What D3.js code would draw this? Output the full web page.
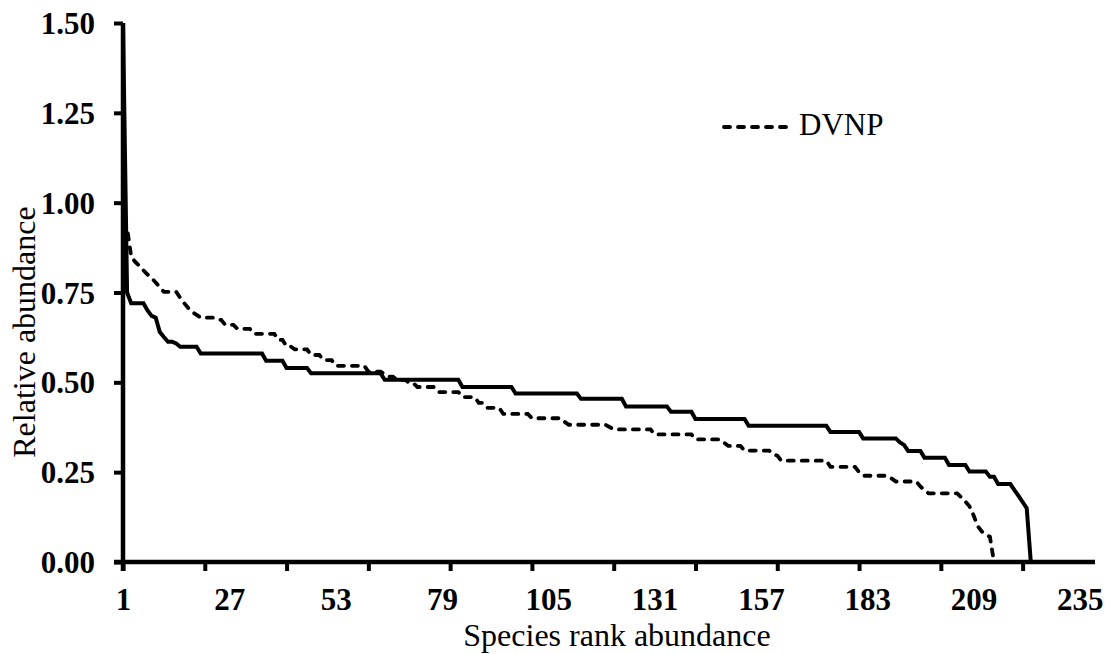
<!DOCTYPE html>
<html>
<head>
<meta charset="utf-8">
<script src="https://cdn.jsdelivr.net/npm/d3@7"></script>
<style>
  body { margin: 0; background: #fff; }
  text { font-family: "Liberation Serif", "Times New Roman", serif; fill: #000; }
</style>
</head>
<body>
<svg id="chart" width="1111" height="654"></svg>
<script>
// rank / relative abundance (corner points of each step)
const solidRank = [1, 2, 3, 6, 7, 8, 9, 10, 11, 12, 13, 14, 15, 19, 20, 35, 36, 40, 41, 46,
  47, 64, 65, 83, 84, 96, 97, 112, 113, 123, 124, 134, 135, 140, 141, 153, 154, 173,
  174, 181, 182, 190, 191, 192, 193, 196, 197, 202, 203, 207, 208, 212, 213, 214,
  215, 218, 219, 220, 221, 222, 223];
const solidValue = [1.50, 0.75, 0.72, 0.72, 0.70, 0.685, 0.68, 0.64, 0.626, 0.613, 0.613, 0.608, 0.599, 0.599, 0.58, 0.58, 0.56, 0.56, 0.54, 0.54,
  0.525, 0.525, 0.507, 0.507, 0.487, 0.487, 0.469, 0.469, 0.454, 0.454, 0.433, 0.433, 0.418, 0.418, 0.398, 0.398, 0.379, 0.379,
  0.362, 0.362, 0.344, 0.344, 0.333, 0.326, 0.309, 0.309, 0.29, 0.29, 0.27, 0.27, 0.252, 0.252, 0.237, 0.237,
  0.217, 0.217, 0.20, 0.184, 0.167, 0.15, 0];

const dvnpRank = [1, 2, 3, 4, 5, 6, 7, 8, 9, 10, 11, 14, 15, 16, 17, 18, 19, 20, 23, 24, 25, 26, 28, 29, 32,
  33, 38, 39, 40, 41, 42, 43, 46, 47, 49, 50, 52, 53, 60, 61, 64, 66, 67, 68, 70, 71, 72, 73, 77,
  78, 83, 84, 87, 88, 89, 90, 93, 94, 100, 101, 108, 109, 110, 119, 121, 130, 131, 140, 141, 147,
  148, 149, 152, 153, 159, 160, 161, 162, 173, 174, 180, 181, 182, 188, 189, 190, 195, 196, 197,
  198, 205, 206, 207, 208, 209, 210, 211, 212, 213, 214];
const dvnpValue = [0.95, 0.93, 0.85, 0.835, 0.824, 0.812, 0.80, 0.79, 0.778, 0.765, 0.752, 0.752, 0.735, 0.72, 0.706, 0.695, 0.688, 0.68, 0.68, 0.674, 0.674, 0.66, 0.66, 0.649, 0.649,
  0.635, 0.635, 0.618, 0.618, 0.60, 0.60, 0.592, 0.592, 0.576, 0.576, 0.562, 0.562, 0.546, 0.546, 0.53, 0.53, 0.516, 0.516, 0.507, 0.507, 0.498, 0.498, 0.487, 0.487,
  0.473, 0.473, 0.459, 0.459, 0.443, 0.443, 0.429, 0.429, 0.412, 0.412, 0.40, 0.40, 0.39, 0.382, 0.382, 0.369, 0.369, 0.355, 0.355, 0.341, 0.341,
  0.332, 0.323, 0.323, 0.31, 0.31, 0.30, 0.296, 0.282, 0.282, 0.265, 0.265, 0.25, 0.24, 0.24, 0.232, 0.224, 0.224, 0.21, 0.20,
  0.191, 0.191, 0.18, 0.168, 0.155, 0.13, 0.10, 0.085, 0.076, 0.07, 0];

const xTickValues = [1, 21, 41, 61, 81, 101, 121, 141, 161, 181, 201, 221];
const xLabelValues = [1, 27, 53, 79, 105, 131, 157, 183, 209, 235];
const yTickValues = [0, 0.25, 0.5, 0.75, 1.0, 1.25, 1.5];

const svg = d3.select("#chart");

const x = d3.scaleLinear().domain([1, 238.7]).range([123, 1095]);
const y = d3.scaleLinear().domain([0, 1.5]).range([562, 23]);

// axes
const xAxis = svg.append("g")
  .attr("transform", `translate(0,${y(0)})`)
  .call(d3.axisBottom(x).tickValues(xTickValues).tickSize(9).tickFormat(""));
xAxis.select(".domain").attr("d", `M${x(1) - 9},0H${x.range()[1]}`);

const xLabels = svg.append("g")
  .attr("transform", `translate(0,${y(0)})`)
  .call(d3.axisBottom(x).tickValues(xLabelValues).tickSize(0).tickFormat(d3.format("d")));
xLabels.select(".domain").remove();
xLabels.selectAll("text")
  .attr("y", 48).attr("dy", 0)
  .style("font-size", "31px").style("font-weight", "bold");

const yAxis = svg.append("g")
  .attr("transform", `translate(${x(1)},0)`)
  .call(d3.axisLeft(y).tickValues(yTickValues).tickSize(9).tickFormat(d3.format(".2f")));
yAxis.select(".domain").attr("d", `M0,${y(1.5)}V${y(0) + 9}`);
yAxis.selectAll("text")
  .attr("x", -28).attr("dy", "0.34em")
  .style("font-size", "31px").style("font-weight", "bold");

svg.selectAll(".domain").attr("stroke", "#000").attr("stroke-width", 4.5);
svg.selectAll(".tick line").attr("stroke", "#000").attr("stroke-width", 4);

// lines
const line = d3.line()
  .x(d => x(d[0]))
  .y(d => y(d[1]));

svg.append("path")
  .datum(dvnpRank.map((r, i) => [r, dvnpValue[i]]))
  .attr("fill", "none")
  .attr("stroke", "#000")
  .attr("stroke-width", 3.8)
  .attr("stroke-dasharray", "6,8")
  .attr("stroke-linecap", "round")
  .attr("d", line);

svg.append("path")
  .datum(solidRank.map((r, i) => [r, solidValue[i]]))
  .attr("fill", "none")
  .attr("stroke", "#000")
  .attr("stroke-width", 4)
  .attr("d", line);

// legend
svg.append("line")
  .attr("x1", 724).attr("x2", 792)
  .attr("y1", 127).attr("y2", 127)
  .attr("stroke", "#000")
  .attr("stroke-width", 3.8)
  .attr("stroke-dasharray", "6,8")
  .attr("stroke-linecap", "round");

svg.append("text")
  .attr("x", 799).attr("y", 135)
  .style("font-size", "31px")
  .text("DVNP");

// axis titles
svg.append("text")
  .attr("x", 617).attr("y", 646)
  .attr("text-anchor", "middle")
  .style("font-size", "32px")
  .text("Species rank abundance");

svg.append("text")
  .attr("transform", "translate(35,332) rotate(-90)")
  .attr("text-anchor", "middle")
  .style("font-size", "32px")
  .text("Relative abundance");
</script>
</body>
</html>
